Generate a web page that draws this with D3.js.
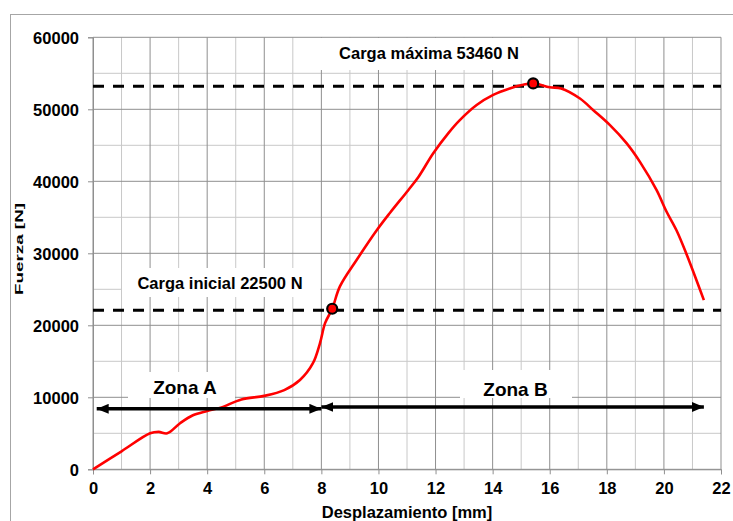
<!DOCTYPE html>
<html lang="es">
<head>
    <meta charset="UTF-8">
    <title>Fuerza - Desplazamiento</title>
    <script src="https://d3js.org/d3.v7.min.js"></script>
    <style>
        body { margin: 0; background: #fff; }
        text { font-family: "Liberation Sans", Arial, sans-serif; font-weight: bold; fill: #000; }
    </style>
</head>
<body>
<script>
    // datos
    var desplazamiento = [0, 1, 2.0, 2.3, 2.6, 3.05, 3.5, 4.0, 4.5, 5.2, 6.0, 6.7, 7.25, 7.7, 7.95, 8.13,
        8.38, 8.65, 9.24, 9.94, 10.4, 11.05, 11.4, 11.92, 12.45, 12.85, 13.44, 14.02, 14.6, 15.07, 15.42,
        16.0, 16.4, 17.06, 17.52, 18.11, 18.69, 19.16, 19.74, 20.09, 20.44, 20.8, 21.4];
    var fuerza = [0, 2500, 5000, 5200, 5000, 6400, 7500, 8100, 8600, 9700, 10200, 11000, 12400, 14700, 17500, 20300,
        22300, 25400, 29100, 33200, 35600, 38800, 40600, 43900, 46700, 48500, 50600, 52000, 52900, 53400, 53600,
        53050, 52900, 51500, 49900, 47800, 45300, 42700, 38800, 35800, 33200, 29800, 23500];

    var xTicks = [0, 2, 4, 6, 8, 10, 12, 14, 16, 18, 20, 22];
    var yTicks = [0, 10000, 20000, 30000, 40000, 50000, 60000];

    // lineas de referencia y puntos marcados
    var cargas = [53200, 22100];
    var puntos = [[8.38, 22300], [15.42, 53600]];
    var zonas = [
        { nombre: "Zona A", desde: 0.13, hasta: 8.0, f: 8400 },
        { nombre: "Zona B", desde: 8.0, hasta: 21.4, f: 8650 }
    ];

    var W = 733, H = 521;
    var mIzq = 93, mDer = 721, mSup = 37.3, mInf = 469.3;

    var svg = d3.select("body").append("svg")
        .attr("width", W)
        .attr("height", H);

    // borde exterior
    svg.append("rect")
        .attr("x", 10.5).attr("y", 14.5)
        .attr("width", 800).attr("height", 600)
        .attr("fill", "none")
        .attr("stroke", "#a6a6a6");

    var x = d3.scaleLinear().domain([0, 22]).range([mIzq, mDer]);
    var y = d3.scaleLinear().domain([0, 60000]).range([mInf, mSup]);

    // rejilla secundaria
    var g = svg.append("g");
    g.selectAll(".vmin").data(d3.range(1, 22, 2)).enter().append("line")
        .attr("x1", function(d){ return x(d); }).attr("x2", function(d){ return x(d); })
        .attr("y1", mSup).attr("y2", mInf)
        .attr("stroke", "#c8c8c8").attr("stroke-width", 1);
    g.selectAll(".hmin").data(d3.range(5000, 60000, 10000)).enter().append("line")
        .attr("x1", mIzq).attr("x2", mDer)
        .attr("y1", function(d){ return y(d); }).attr("y2", function(d){ return y(d); })
        .attr("stroke", "#c8c8c8").attr("stroke-width", 1);
    // rejilla principal
    g.selectAll(".vmaj").data(xTicks).enter().append("line")
        .attr("x1", function(d){ return x(d); }).attr("x2", function(d){ return x(d); })
        .attr("y1", mSup).attr("y2", mInf)
        .attr("stroke", "#8f8f8f").attr("stroke-width", 1);
    g.selectAll(".hmaj").data(yTicks).enter().append("line")
        .attr("x1", mIzq).attr("x2", mDer)
        .attr("y1", function(d){ return y(d); }).attr("y2", function(d){ return y(d); })
        .attr("stroke", "#8f8f8f").attr("stroke-width", 1);

    // ejes
    var ax = svg.append("g")
        .attr("transform", "translate(0," + mInf + ")")
        .call(d3.axisBottom(x).tickValues(xTicks).tickSize(5).tickPadding(8));
    var ay = svg.append("g")
        .attr("transform", "translate(" + mIzq + ",0)")
        .call(d3.axisLeft(y).tickValues(yTicks).tickSize(5).tickPadding(9).tickFormat(d3.format("d")));
    [ax, ay].forEach(function(a){
        a.select(".domain").attr("stroke", "#8f8f8f");
        a.selectAll(".tick line").attr("stroke", "#8f8f8f");
        a.selectAll("text").style("font-size", "16.5px").attr("fill", "#000");
    });
    ay.selectAll("text").attr("dy", "0.36em");

    // cajas blancas de las etiquetas
    var cajas = [[300, 38, 245, 32], [122, 268, 198, 29], [128, 372, 107, 26], [460, 370, 112, 28]];
    svg.selectAll(".caja").data(cajas).enter().append("rect")
        .attr("x", function(d){ return d[0]; }).attr("y", function(d){ return d[1]; })
        .attr("width", function(d){ return d[2]; }).attr("height", function(d){ return d[3]; })
        .attr("fill", "#fff");

    // lineas discontinuas
    svg.selectAll(".carga").data(cargas).enter().append("line")
        .attr("x1", mIzq).attr("x2", mDer)
        .attr("y1", function(d){ return y(d); }).attr("y2", function(d){ return y(d); })
        .attr("stroke", "#000").attr("stroke-width", 3)
        .attr("stroke-dasharray", "11,9");

    // curva
    var datos = desplazamiento.map(function(d, i){ return [d, fuerza[i]]; });
    var linea = d3.line()
        .x(function(d){ return x(d[0]); })
        .y(function(d){ return y(d[1]); })
        .curve(d3.curveCatmullRom.alpha(0.5));
    svg.append("path")
        .datum(datos)
        .attr("d", linea)
        .attr("fill", "none")
        .attr("stroke", "#ff0000")
        .attr("stroke-width", 2.6)
        .attr("stroke-linejoin", "round");

    // flechas de zona
    var defs = svg.append("defs");
    defs.append("marker")
        .attr("id", "punta")
        .attr("viewBox", "0 0 12 10")
        .attr("refX", 12).attr("refY", 5)
        .attr("markerWidth", 12).attr("markerHeight", 10)
        .attr("markerUnits", "userSpaceOnUse")
        .attr("orient", "auto-start-reverse")
        .append("path")
        .attr("d", "M0,0 L12,5 L0,10 Z")
        .attr("fill", "#000");
    svg.selectAll(".zona").data(zonas).enter().append("line")
        .attr("x1", function(d){ return x(d.desde); })
        .attr("x2", function(d){ return x(d.hasta); })
        .attr("y1", function(d){ return y(d.f); })
        .attr("y2", function(d){ return y(d.f); })
        .attr("stroke", "#000").attr("stroke-width", 3.5)
        .attr("marker-start", "url(#punta)")
        .attr("marker-end", "url(#punta)");

    // puntos
    svg.selectAll(".punto").data(puntos).enter().append("circle")
        .attr("cx", function(d){ return x(d[0]); })
        .attr("cy", function(d){ return y(d[1]); })
        .attr("r", 5)
        .attr("fill", "#ff0000")
        .attr("stroke", "#000")
        .attr("stroke-width", 2.2);

    // textos
    svg.append("text").attr("x", 429).attr("y", 59).attr("text-anchor", "middle")
        .style("font-size", "16.5px").text("Carga máxima 53460 N");
    svg.append("text").attr("x", 220).attr("y", 289).attr("text-anchor", "middle")
        .style("font-size", "16.5px").text("Carga inicial 22500 N");
    svg.append("text").attr("x", 185).attr("y", 394).attr("text-anchor", "middle")
        .style("font-size", "19px").text("Zona A");
    svg.append("text").attr("x", 515.5).attr("y", 396).attr("text-anchor", "middle")
        .style("font-size", "19px").text("Zona B");

    // titulos de ejes
    svg.append("text").attr("x", (mIzq + mDer) / 2).attr("y", 518).attr("text-anchor", "middle")
        .style("font-size", "16.5px").text("Desplazamiento [mm]");
    svg.append("text")
        .attr("transform", "translate(23,249) rotate(-90)")
        .attr("text-anchor", "middle")
        .attr("textLength", 92).attr("lengthAdjust", "spacingAndGlyphs")
        .style("font-size", "11.6px").text("Fuerza [N]");
</script>
</body>
</html>
